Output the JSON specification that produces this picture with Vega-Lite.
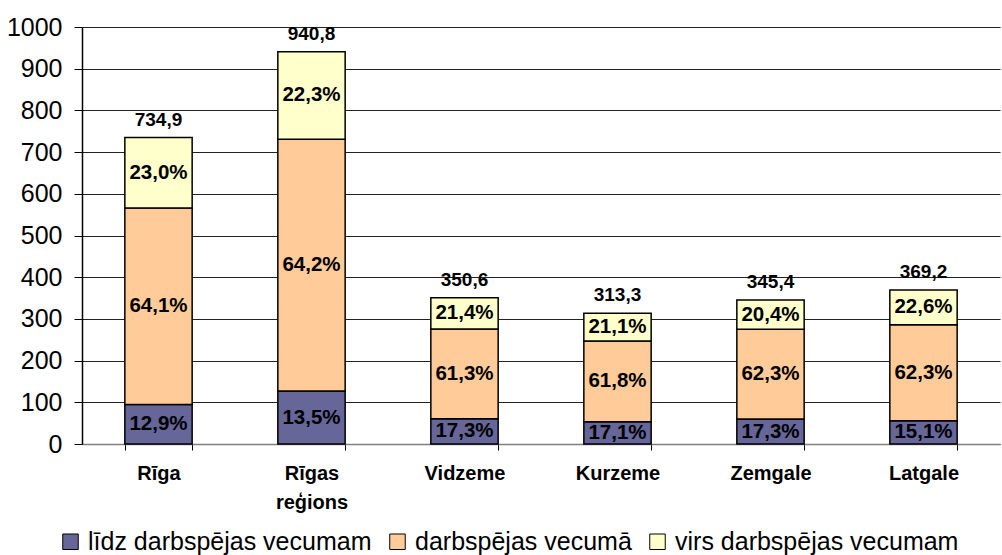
{
  "$schema": "https://vega.github.io/schema/vega-lite/v6.json",
  "width": 918,
  "height": 417,
  "autosize": {"type": "none"},
  "padding": {"left": 82, "top": 27, "right": 2, "bottom": 111},
  "background": "white",
  "config": {
    "font": "Liberation Sans",
    "view": {"stroke": null}
  },
  "datasets": {
    "segs": [
      {"region": "Rīga", "group": "līdz darbspējas vecumam", "ord": 1, "value": 94.8, "pct": "12,9%"},
      {"region": "Rīga", "group": "darbspējas vecumā", "ord": 2, "value": 471.1, "pct": "64,1%"},
      {"region": "Rīga", "group": "virs darbspējas vecumam", "ord": 3, "value": 169.0, "pct": "23,0%"},
      {"region": "Rīgas reģions", "group": "līdz darbspējas vecumam", "ord": 1, "value": 127.0, "pct": "13,5%"},
      {"region": "Rīgas reģions", "group": "darbspējas vecumā", "ord": 2, "value": 604.0, "pct": "64,2%"},
      {"region": "Rīgas reģions", "group": "virs darbspējas vecumam", "ord": 3, "value": 209.8, "pct": "22,3%"},
      {"region": "Vidzeme", "group": "līdz darbspējas vecumam", "ord": 1, "value": 60.7, "pct": "17,3%"},
      {"region": "Vidzeme", "group": "darbspējas vecumā", "ord": 2, "value": 214.9, "pct": "61,3%"},
      {"region": "Vidzeme", "group": "virs darbspējas vecumam", "ord": 3, "value": 75.0, "pct": "21,4%"},
      {"region": "Kurzeme", "group": "līdz darbspējas vecumam", "ord": 1, "value": 53.6, "pct": "17,1%"},
      {"region": "Kurzeme", "group": "darbspējas vecumā", "ord": 2, "value": 193.6, "pct": "61,8%"},
      {"region": "Kurzeme", "group": "virs darbspējas vecumam", "ord": 3, "value": 66.1, "pct": "21,1%"},
      {"region": "Zemgale", "group": "līdz darbspējas vecumam", "ord": 1, "value": 59.8, "pct": "17,3%"},
      {"region": "Zemgale", "group": "darbspējas vecumā", "ord": 2, "value": 215.2, "pct": "62,3%"},
      {"region": "Zemgale", "group": "virs darbspējas vecumam", "ord": 3, "value": 70.5, "pct": "20,4%"},
      {"region": "Latgale", "group": "līdz darbspējas vecumam", "ord": 1, "value": 55.7, "pct": "15,1%"},
      {"region": "Latgale", "group": "darbspējas vecumā", "ord": 2, "value": 230.0, "pct": "62,3%"},
      {"region": "Latgale", "group": "virs darbspējas vecumam", "ord": 3, "value": 83.4, "pct": "22,6%"}
    ],
    "totals": [
      {"region": "Rīga", "total": 734.9, "label": "734,9"},
      {"region": "Rīgas reģions", "total": 940.8, "label": "940,8"},
      {"region": "Vidzeme", "total": 350.6, "label": "350,6"},
      {"region": "Kurzeme", "total": 313.3, "label": "313,3"},
      {"region": "Zemgale", "total": 345.4, "label": "345,4"},
      {"region": "Latgale", "total": 369.2, "label": "369,2"}
    ]
  },
  "encoding": {
    "x": {
      "field": "region",
      "type": "nominal",
      "sort": ["Rīga", "Rīgas reģions", "Vidzeme", "Kurzeme", "Zemgale", "Latgale"],
      "scale": {"paddingInner": 0.56, "paddingOuter": 0.28},
      "axis": {
        "title": null,
        "labelAngle": 0,
        "labelFont": "Liberation Sans",
        "labelFontSize": 20,
        "labelFontWeight": "bold",
        "labelColor": "black",
        "labelPadding": 13,
        "labelLineHeight": 29,
        "labelExpr": "datum.label == 'Rīgas reģions' ? ['Rīgas', 'reģions'] : datum.label",
        "tickBand": "extent",
        "tickSize": 6,
        "tickColor": "black",
        "domainColor": "#808080",
        "domainWidth": 1.5,
        "grid": false
      }
    }
  },
  "layer": [
    {
      "data": {"name": "segs"},
      "mark": {"type": "bar", "stroke": "black", "strokeWidth": 1.5},
      "encoding": {
        "y": {
          "field": "value",
          "type": "quantitative",
          "stack": "zero",
          "scale": {"domain": [0, 1000], "nice": false},
          "axis": {
            "title": null,
            "format": "d",
            "values": [0, 100, 200, 300, 400, 500, 600, 700, 800, 900, 1000],
            "labelFont": "Liberation Sans",
            "labelFontSize": 25,
            "labelColor": "black",
            "labelPadding": 12,
            "tickSize": 8,
            "tickColor": "black",
            "domainColor": "black",
            "domainWidth": 1.5,
            "grid": true,
            "gridColor": "#222222",
            "gridWidth": 1
          }
        },
        "color": {
          "field": "group",
          "type": "nominal",
          "sort": ["līdz darbspējas vecumam", "darbspējas vecumā", "virs darbspējas vecumam"],
          "scale": {
            "domain": ["līdz darbspējas vecumam", "darbspējas vecumā", "virs darbspējas vecumam"],
            "range": ["#666699", "#FFCC99", "#FFFFCC"]
          },
          "legend": {
            "title": null,
            "orient": "none",
            "legendX": -24,
            "legendY": 502,
            "direction": "horizontal",
            "symbolType": "square",
            "symbolSize": 240,
            "symbolStrokeColor": "black",
            "symbolStrokeWidth": 1,
            "labelFont": "Liberation Sans",
            "labelFontSize": 25,
            "labelColor": "black",
            "labelOffset": 5,
            "columnPadding": 13,
            "labelLimit": 500
          }
        },
        "order": {"field": "ord", "type": "quantitative"}
      }
    },
    {
      "data": {"name": "segs"},
      "transform": [
        {"stack": "value", "groupby": ["region"], "sort": [{"field": "ord"}], "as": ["s0", "s1"]},
        {"calculate": "(datum.s0 + datum.s1) / 2", "as": "mid"}
      ],
      "mark": {"type": "text", "font": "Liberation Sans", "fontSize": 20.5, "fontWeight": "bold", "color": "black", "baseline": "middle"},
      "encoding": {
        "y": {"field": "mid", "type": "quantitative"},
        "text": {"field": "pct"}
      }
    },
    {
      "data": {"name": "totals"},
      "mark": {"type": "text", "font": "Liberation Sans", "fontSize": 19, "fontWeight": "bold", "color": "black", "baseline": "bottom", "dy": -8},
      "encoding": {
        "y": {"field": "total", "type": "quantitative"},
        "text": {"field": "label"}
      }
    }
  ]
}
